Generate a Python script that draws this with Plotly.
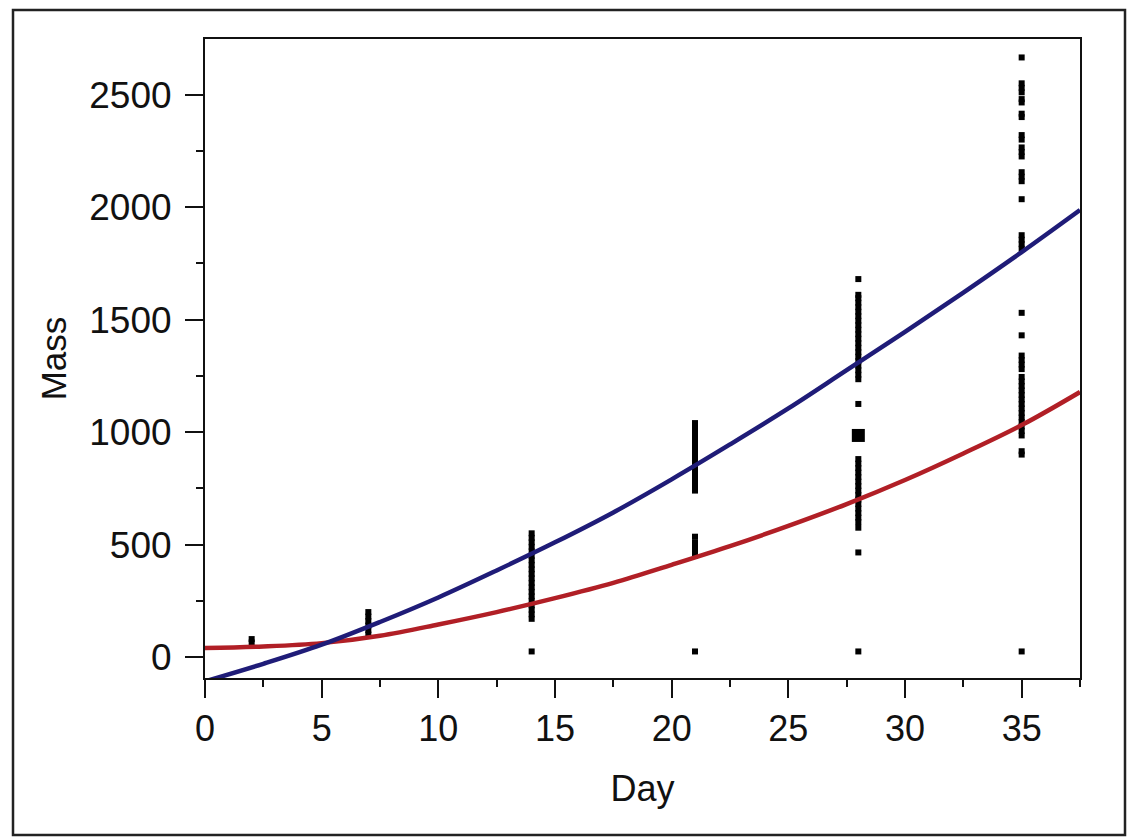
import plotly.graph_objects as go

# ---- data ----
curve_day = [0, 2.5, 5, 7.5, 10, 12.5, 15, 17.5, 20, 22.5, 25, 27.5, 30, 32.5, 35, 37.5]
blue_fit = [-108, -30, 55, 156, 265, 385, 510, 643, 790, 945, 1105, 1275, 1445, 1620, 1800, 1987]
red_fit = [40, 47, 62, 95, 145, 200, 262, 330, 410, 493, 583, 680, 787, 905, 1031, 1178]

mass_d2 = [65, 80]
mass_d7 = [100, 120, 140, 160, 180, 200]
mass_d14 = [25, 170, 190, 210, 230, 250, 270, 290, 310, 330, 350, 370, 390, 410,
            430, 450, 470, 490, 510, 530, 550]
mass_d21 = [25, 450, 470, 490, 510, 535, 740, 760, 780, 800, 820, 840, 860, 880,
            900, 920, 935, 960, 980, 1000, 1020, 1040]
mass_d28 = [25, 465, 575, 600, 620, 640, 660, 680, 700, 720, 740, 760, 780, 800,
            820, 840, 860, 880, 1125, 1235, 1255, 1275, 1295, 1315, 1335, 1355, 1375,
            1395, 1415, 1435, 1455, 1475, 1495, 1515, 1535, 1555, 1575, 1595, 1610, 1680]
mass_d28_big = [985]
mass_d35 = [25, 900, 915, 985, 1005, 1025, 1045, 1065, 1085, 1105, 1125, 1145, 1165,
            1185, 1205, 1225, 1245, 1280, 1300, 1320, 1340, 1430, 1530, 1815, 1835,
            1855, 1875, 2035, 2115, 2135, 2155, 2225, 2245, 2265, 2300, 2320, 2400,
            2415, 2465, 2480, 2510, 2530, 2550, 2665]

obs_days = [2, 7, 14, 21, 28, 35]
obs_mass = [mass_d2, mass_d7, mass_d14, mass_d21, mass_d28, mass_d35]

x_ticks = [0, 5, 10, 15, 20, 25, 30, 35]
y_ticks = [0, 500, 1000, 1500, 2000, 2500]

# ---- figure ----
FONT = "Liberation Sans, Arial, sans-serif"
fig = go.Figure()

xs, ys = [], []
for d, vals in zip(obs_days, obs_mass):
    xs += [d] * len(vals)
    ys += vals
fig.add_trace(go.Scatter(x=xs, y=ys, mode="markers",
                         marker=dict(symbol="square", size=6, color="black",
                                     line=dict(width=0)),
                         showlegend=False, hoverinfo="x+y"))
fig.add_trace(go.Scatter(x=[28] * len(mass_d28_big), y=mass_d28_big, mode="markers",
                         marker=dict(symbol="square", size=13, color="black",
                                     line=dict(width=0)),
                         showlegend=False))

fig.add_trace(go.Scatter(x=curve_day, y=red_fit, mode="lines", line_shape="spline",
                         line=dict(color="#b11f26", width=4.5), showlegend=False))
fig.add_trace(go.Scatter(x=curve_day, y=blue_fit, mode="lines", line_shape="spline",
                         line=dict(color="#1f1c78", width=4.5), showlegend=False))

W, H = 1131, 840
L, R, T, B = 205, 1080, 39, 678
pw, ph = R - L, B - T


def px(xp):
    return (xp - L) / pw


def py(yp):
    return (B - yp) / ph


fig.add_shape(type="rect", xref="paper", yref="paper",
              x0=px(13), x1=px(1125), y0=py(835), y1=py(10),
              line=dict(color="#222222", width=2.5), layer="below")

fig.update_layout(
    width=W, height=H,
    margin=dict(l=L, r=W - R, t=T, b=H - B, autoexpand=False),
    paper_bgcolor="white", plot_bgcolor="white",
    font=dict(family=FONT, size=36, color="#111111"),
    showlegend=False,
)
fig.update_xaxes(
    range=[0, 37.5], tickvals=x_ticks, ticktext=[str(v) for v in x_ticks],
    ticks="outside", ticklen=18, tickwidth=2, tickcolor="#111111",
    showline=True, linecolor="#111111", linewidth=2, mirror=True,
    showgrid=False, zeroline=False,
    tickfont=dict(size=36),
    minor=dict(dtick=2.5, tick0=0, ticks="outside", ticklen=7, tickwidth=2,
               tickcolor="#111111", showgrid=False),
    title=dict(text="Day", font=dict(size=36), standoff=28),
    automargin=False,
)
fig.update_yaxes(
    range=[-93, 2747], tickvals=y_ticks, ticktext=[str(v) for v in y_ticks],
    ticks="outside", ticklen=18, tickwidth=2, tickcolor="#111111",
    showline=True, linecolor="#111111", linewidth=2, mirror=True,
    showgrid=False, zeroline=False,
    tickfont=dict(size=37), ticklabelstandoff=6,
    minor=dict(dtick=250, tick0=0, ticks="outside", ticklen=7, tickwidth=2,
               tickcolor="#111111", showgrid=False),
    title=dict(text="Mass", font=dict(size=35), standoff=12),
    automargin=False,
)

fig.write_html("out.html")
